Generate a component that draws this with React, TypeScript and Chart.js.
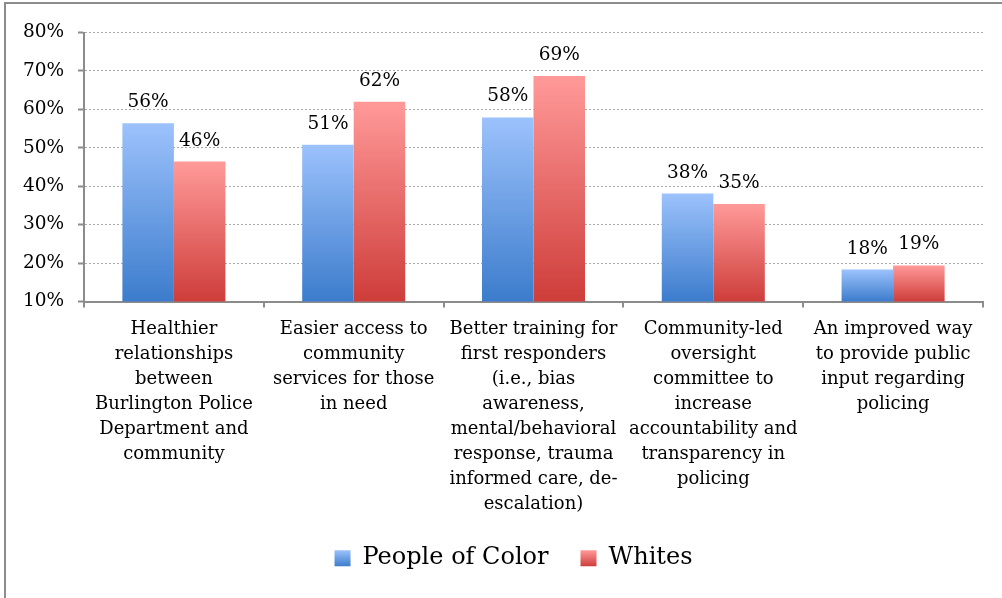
import React, { useEffect, useRef } from "react";
import { Chart, registerables } from "chart.js";

Chart.register(...registerables);

const categories: string[][] = [
  ["Healthier", "relationships", "between", "Burlington Police", "Department and", "community"],
  ["Easier access to", "community", "services for those", "in need"],
  ["Better training for", "first responders", "(i.e., bias", "awareness,", "mental/behavioral", "response, trauma", "informed care, de-", "escalation)"],
  ["Community-led", "oversight", "committee to", "increase", "accountability and", "transparency in", "policing"],
  ["An improved way", "to provide public", "input regarding", "policing"],
];
const peopleOfColor: number[] = [56.4, 50.8, 57.9, 38.1, 18.3];
const whites: number[] = [46.4, 62.0, 68.7, 35.4, 19.4];
const seriesNames: string[] = ["People of Color", "Whites"];
const yTicks: number[] = [10, 20, 30, 40, 50, 60, 70, 80];

const FONT = "'DejaVu Serif', serif";
const BLUE = ["#9cc2fc", "#3c7ccc"];
const RED = ["#ff9a99", "#ce3d3a"];
const AXIS = "#8c8c8c";
const LEGEND_FS = 24;

function barFill(colors: string[]) {
  return (ctx: any) => {
    const chart = ctx.chart;
    const y = chart.scales && chart.scales.y;
    if (ctx.type !== "data" || !y || !chart.chartArea) return colors[0];
    const top = y.getPixelForValue(ctx.raw);
    const bottom = y.getPixelForValue(y.min);
    const g = chart.ctx.createLinearGradient(0, top, 0, bottom);
    g.addColorStop(0, colors[0]);
    g.addColorStop(1, colors[1]);
    return g;
  };
}

const valueLabels = {
  id: "valueLabels",
  afterDatasetsDraw(chart: any) {
    const c = chart.ctx;
    c.save();
    c.font = `18.5px ${FONT}`;
    c.fillStyle = "#000";
    c.textAlign = "center";
    c.textBaseline = "alphabetic";
    chart.data.datasets.forEach((ds: any, di: number) => {
      const meta = chart.getDatasetMeta(di);
      meta.data.forEach((el: any, i: number) => {
        c.fillText(`${Math.round(ds.data[i])}%`, el.x, el.y - 16);
      });
    });
    c.restore();
  },
};

const legendTweaks = {
  id: "legendTweaks",
  afterLayout(chart: any) {
    const lg = chart.legend;
    if (lg) lg.left = 44;
  },
  beforeDraw(chart: any) {
    const lg = chart.legend;
    if (!lg || !lg.legendItems || !lg.legendHitBoxes) return;
    const sets = [BLUE, RED];
    lg.legendItems.forEach((item: any, i: number) => {
      const hb = lg.legendHitBoxes[i];
      if (!hb) return;
      const top = hb.top + Math.max((LEGEND_FS - 16) / 2, 0);
      const g = chart.ctx.createLinearGradient(0, top, 0, top + 16);
      g.addColorStop(0, sets[i][0]);
      g.addColorStop(1, sets[i][1]);
      item.fillStyle = g;
    });
  },
};

export default function App() {
  const ref = useRef<HTMLCanvasElement>(null);
  useEffect(() => {
    if (!ref.current) return;
    const chart = new Chart(ref.current, {
      type: "bar",
      data: {
        labels: categories,
        datasets: [
          {
            label: seriesNames[0],
            data: peopleOfColor,
            backgroundColor: barFill(BLUE),
            borderWidth: 0,
            categoryPercentage: 0.573,
            barPercentage: 1,
          },
          {
            label: seriesNames[1],
            data: whites,
            backgroundColor: barFill(RED),
            borderWidth: 0,
            categoryPercentage: 0.573,
            barPercentage: 1,
          },
        ],
      },
      options: {
        responsive: false,
        animation: false,
        devicePixelRatio: 1,
        layout: { padding: { left: 0, right: 19, top: 32.5, bottom: 17.75 } },
        plugins: {
          tooltip: { enabled: false },
          title: { display: false },
          legend: {
            position: "bottom",
            labels: {
              boxWidth: 16,
              boxHeight: 16,
              padding: 32,
              color: "#000",
              font: { family: FONT, size: LEGEND_FS },
            },
          },
        },
        scales: {
          x: {
            afterFit: (s: any) => {
              s.height = 212.75;
            },
            grid: {
              display: true,
              drawOnChartArea: false,
              drawTicks: true,
              tickLength: 6,
              color: AXIS,
              lineWidth: 2,
              offset: true,
            },
            border: { display: true, color: AXIS, width: 2 },
            ticks: {
              autoSkip: false,
              maxRotation: 0,
              minRotation: 0,
              padding: 9,
              color: "#000",
              font: { family: FONT, size: 18, lineHeight: "25px" as any },
            },
          },
          y: {
            min: 10,
            max: 80,
            afterFit: (s: any) => {
              s.width = 84;
            },
            afterBuildTicks: (s: any) => {
              s.ticks = yTicks.map((v) => ({ value: v }));
            },
            grid: {
              color: "#a8a8a8",
              lineWidth: 1,
              tickLength: 6,
              tickColor: AXIS,
              tickWidth: 2,
              tickBorderDash: [],
            },
            border: { display: true, color: AXIS, width: 2, dash: [2, 2] },
            ticks: {
              padding: 14,
              color: "#000",
              font: { family: FONT, size: 18.5 },
              callback: (v: any) => `${v}%`,
            },
          },
        },
      },
      plugins: [valueLabels, legendTweaks],
    });
    return () => chart.destroy();
  }, []);

  return (
    <div
      style={{
        position: "absolute",
        left: 0,
        top: 0,
        width: 1002,
        height: 598,
        overflow: "hidden",
        background: "#fff",
      }}
    >
      <div
        style={{
          position: "absolute",
          left: 4,
          top: 2,
          width: 1100,
          height: 700,
          borderLeft: `2px solid ${AXIS}`,
          borderTop: `2px solid ${AXIS}`,
        }}
      />
      <canvas
        ref={ref}
        width={1002}
        height={598}
        style={{ position: "absolute", left: 0, top: 0, width: 1002, height: 598, display: "block" }}
      />
    </div>
  );
}
